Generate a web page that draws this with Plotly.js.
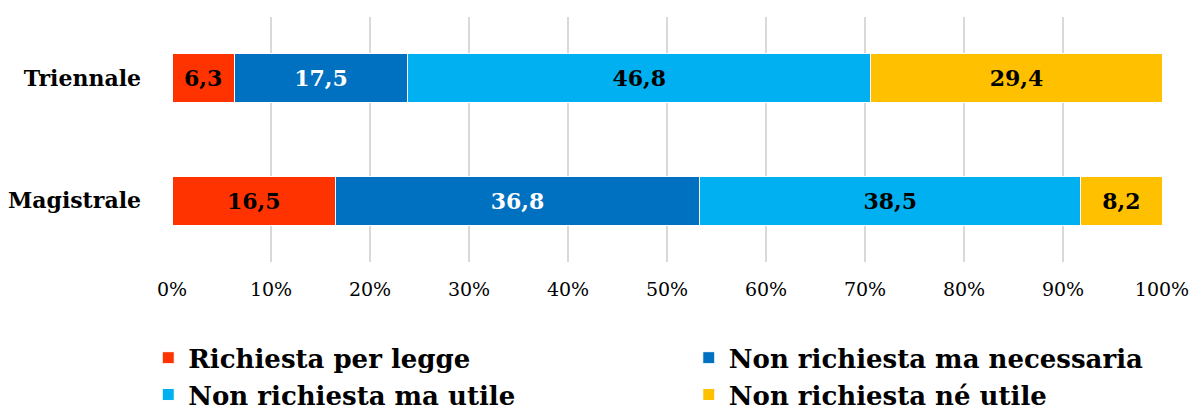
<!DOCTYPE html>
<html>
<head>
<meta charset="utf-8">
<script src="https://cdn.plot.ly/plotly-3.0.1.min.js"></script>
<style>html,body{margin:0;padding:0;background:#fff;}#chart{width:1195px;height:412px;}</style>
</head>
<body>
<div id="chart"></div>
<script>
const categories = ['Triennale', 'Magistrale'];
const seriesNames = ['Richiesta per legge', 'Non richiesta ma necessaria', 'Non richiesta ma utile', 'Non richiesta né utile'];
const richiestaPerLegge = [6.3, 16.5];
const nonRichiestaNecessaria = [17.5, 36.8];
const nonRichiestaUtile = [46.8, 38.5];
const nonRichiestaNeUtile = [29.4, 8.2];
const tickValues = [0, 10, 20, 30, 40, 50, 60, 70, 80, 90, 100];
const tickLabels = ['0%', '10%', '20%', '30%', '40%', '50%', '60%', '70%', '80%', '90%', '100%'];

const colors = ['#FF3300', '#0070C0', '#00B0F0', '#FFC000'];
const textColors = ['#000000', '#FFFFFF', '#000000', '#000000'];
const legendIds = ['legend', 'legend2', 'legend', 'legend2'];
const allSeries = [richiestaPerLegge, nonRichiestaNecessaria, nonRichiestaUtile, nonRichiestaNeUtile];
const serif = 'DejaVu Serif, Liberation Serif, serif';

const fmt = v => v.toFixed(1).replace('.', ',');

const traces = allSeries.map((vals, i) => ({
  type: 'bar',
  orientation: 'h',
  name: seriesNames[i],
  legend: legendIds[i],
  y: categories,
  x: vals,
  text: vals.map(fmt),
  textposition: 'inside',
  insidetextanchor: 'middle',
  textangle: 0,
  constraintext: 'none',
  textfont: {family: serif, size: 22, color: textColors[i], weight: 'bold'},
  marker: {color: colors[i], line: {color: '#FFFFFF', width: 1}},
  hoverinfo: 'skip'
}));

const legendBase = {
  orientation: 'v',
  yanchor: 'top',
  y: -0.295,
  xanchor: 'left',
  traceorder: 'normal',
  bgcolor: 'rgba(0,0,0,0)',
  font: {family: serif, size: 26, color: '#000000', weight: 'bold'},
  itemclick: false,
  itemdoubleclick: false
};

const layout = {
  width: 1195,
  height: 412,
  margin: {l: 172, r: 33, t: 17, b: 150, autoexpand: false},
  barmode: 'stack',
  bargap: 0.6,
  paper_bgcolor: '#FFFFFF',
  plot_bgcolor: '#FFFFFF',
  showlegend: true,
  xaxis: {
    range: [0, 100],
    tickvals: tickValues,
    ticktext: tickLabels,
    showgrid: true,
    gridcolor: '#D9D9D9',
    gridwidth: 1.5,
    zeroline: false,
    showline: false,
    ticks: '',
    ticklabelstandoff: 14,
    tickfont: {family: serif, size: 19, color: '#000000'},
    fixedrange: true
  },
  yaxis: {
    autorange: 'reversed',
    showgrid: false,
    zeroline: false,
    showline: false,
    ticks: '',
    ticklabelstandoff: 30,
    tickfont: {family: serif, size: 22, color: '#000000', weight: 'bold'},
    fixedrange: true
  },
  legend: Object.assign({}, legendBase, {x: -0.024}),
  legend2: Object.assign({}, legendBase, {x: 0.522})
};

Plotly.newPlot('chart', traces, layout, {displayModeBar: false, staticPlot: true});
</script>
</body>
</html>
